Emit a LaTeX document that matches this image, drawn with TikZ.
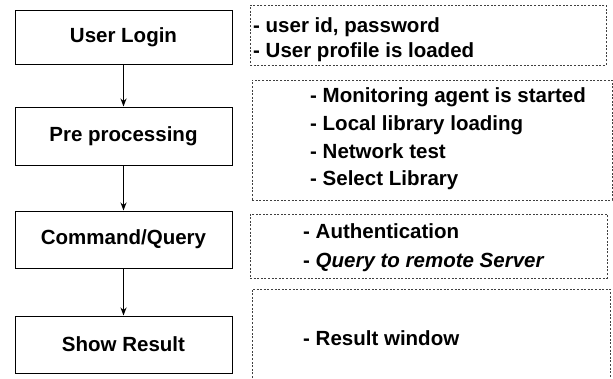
\documentclass[tikz,border=0pt]{standalone}
\usepackage{fontspec}
\setmainfont{Liberation Sans}
\usetikzlibrary{arrows.meta}
\begin{document}
\begin{tikzpicture}[x=1pt,y=-1pt,
  stepbox/.style={draw=black,line width=1pt,minimum width=217pt,inner sep=0pt,
    font=\fontsize{20.5}{24}\selectfont\bfseries},
  notebox/.style={draw=black!75,line width=0.6pt,dash pattern=on 2pt off 1.6pt,inner sep=0pt},
  notetext/.style={anchor=west,align=left,inner sep=0pt},
  flow/.style={-{Stealth[length=8pt,width=6pt]},line width=1.3pt}]
\useasboundingbox[fill=white] (0,0) rectangle (613,378);
% left flow boxes
\node[stepbox,minimum height=54pt] (login) at (123.5,37) {User Login};
\node[stepbox,minimum height=58pt] (pre) at (123.5,136) {Pre processing};
\node[stepbox,minimum height=57pt] (cmd) at (123.5,239.5) {Command/Query};
\node[stepbox,minimum height=57pt] (show) at (123.5,344.5) {Show Result};
\draw[flow] (login) -- (pre);
\draw[flow] (pre) -- (cmd);
\draw[flow] (cmd) -- (show);
% right note boxes
\node[notebox,minimum width=356pt,minimum height=60pt] (n1) at (428,35) {};
\node[notebox,minimum width=360pt,minimum height=120pt] (n2) at (432,140) {};
\node[notebox,minimum width=357pt,minimum height=64pt] (n3) at (428.5,246) {};
\draw[notebox] (252,378) -- (252,289) -- (610,289) -- (610,378);
% note texts
\node[notetext,font=\fontsize{20.5}{25}\selectfont\bfseries] (t1) at (253,40) {- user id, password\\- User profile is loaded};
\node[notetext,font=\fontsize{20.5}{27.7}\selectfont\bfseries] (t2) at (310,139) {- Monitoring agent is started\\- Local library loading\\- Network test\\- Select Library};
\node[notetext,font=\fontsize{20.5}{29}\selectfont\bfseries] (t3) at (303,248) {- Authentication\\- \textit{Query to remote Server}};
\node[notetext,font=\fontsize{20.5}{24}\selectfont\bfseries] (t4) at (303,338) {- Result window};
\end{tikzpicture}
\end{document}
